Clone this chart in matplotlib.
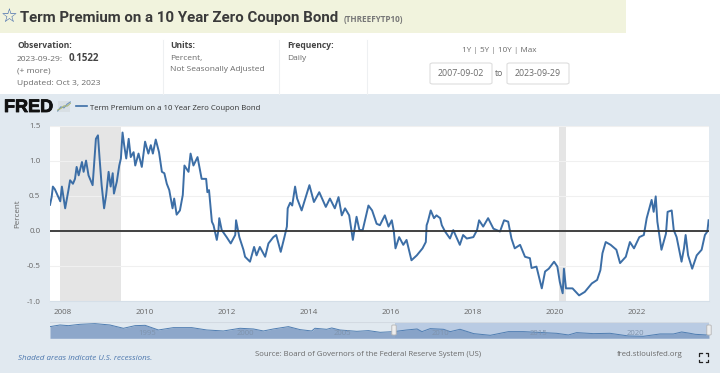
import matplotlib
matplotlib.use("Agg")
import matplotlib.pyplot as plt
import matplotlib.patheffects as pe
from matplotlib.patches import Rectangle, FancyBboxPatch

plt.rcParams['font.family'] = ['Open Sans', 'DejaVu Sans']

# values (fractional year, percent)
years = [2007.68, 2007.72, 2007.75, 2007.80, 2007.86, 2007.93, 2007.97, 2008.05, 2008.13, 2008.17,
         2008.24, 2008.29, 2008.33, 2008.38, 2008.46, 2008.50, 2008.56, 2008.62, 2008.67, 2008.72,
         2008.76, 2008.80, 2008.85, 2008.89, 2008.94, 2009.00, 2009.05, 2009.11, 2009.16, 2009.21,
         2009.24, 2009.31, 2009.37, 2009.41, 2009.45, 2009.49, 2009.54, 2009.60, 2009.65, 2009.72,
         2009.76, 2009.84, 2009.92, 2010.00, 2010.08, 2010.14, 2010.19, 2010.26, 2010.34, 2010.41,
         2010.47, 2010.53, 2010.59, 2010.67, 2010.71, 2010.77, 2010.85, 2010.92, 2010.96, 2011.06,
         2011.11, 2011.18, 2011.28, 2011.38, 2011.49, 2011.52, 2011.56, 2011.63, 2011.67, 2011.75,
         2011.79, 2011.81, 2011.87, 2011.99, 2012.09, 2012.20, 2012.22, 2012.30, 2012.40, 2012.44,
         2012.56, 2012.66, 2012.72, 2012.80, 2012.93, 2013.01, 2013.13, 2013.20, 2013.31, 2013.40,
         2013.46, 2013.48, 2013.54, 2013.59, 2013.66, 2013.71, 2013.82, 2013.90, 2014.01, 2014.12,
         2014.25, 2014.41, 2014.51, 2014.63, 2014.72, 2014.80, 2014.88, 2014.98, 2015.07, 2015.16,
         2015.23, 2015.31, 2015.45, 2015.54, 2015.65, 2015.73, 2015.85, 2015.94, 2016.02, 2016.07,
         2016.11, 2016.20, 2016.30, 2016.38, 2016.50, 2016.63, 2016.77, 2016.85, 2016.87, 2016.90,
         2016.97, 2017.05, 2017.11, 2017.20, 2017.24, 2017.32, 2017.44, 2017.52, 2017.68, 2017.76,
         2017.85, 2018.01, 2018.10, 2018.15, 2018.25, 2018.37, 2018.50, 2018.66, 2018.76, 2018.86,
         2018.94, 2019.02, 2019.15, 2019.27, 2019.39, 2019.43, 2019.55, 2019.68, 2019.76, 2019.85,
         2019.98, 2020.06, 2020.12, 2020.19, 2020.22, 2020.27, 2020.43, 2020.59, 2020.73, 2020.90,
         2021.03, 2021.11, 2021.16, 2021.24, 2021.36, 2021.50, 2021.59, 2021.73, 2021.83, 2021.93,
         2022.06, 2022.17, 2022.24, 2022.36, 2022.41, 2022.46, 2022.50, 2022.60, 2022.71, 2022.75,
         2022.85, 2022.90, 2022.97, 2023.09, 2023.15, 2023.19, 2023.25, 2023.35, 2023.46, 2023.58,
         2023.66, 2023.72, 2023.75]
premium = [0.37, 0.48, 0.63, 0.59, 0.51, 0.42, 0.63, 0.32, 0.58, 0.72,
           0.67, 0.74, 0.91, 0.79, 0.98, 0.84, 1.00, 0.79, 0.72, 0.65,
           0.98, 1.31, 1.36, 1.03, 0.65, 0.32, 0.51, 0.84, 0.63, 0.82,
           0.53, 0.70, 0.93, 1.03, 1.40, 1.22, 1.03, 1.31, 1.05, 1.12,
           0.93, 1.10, 0.91, 1.27, 1.10, 1.22, 1.10, 1.30, 1.12, 0.84,
           0.82, 0.67, 0.58, 0.32, 0.46, 0.23, 0.29, 0.51, 0.93, 0.84,
           1.10, 0.93, 1.05, 0.74, 0.74, 0.55, 0.58, 0.13, 0.08, -0.13,
           0.01, 0.18, 0.01, -0.09, -0.18, -0.06, 0.15, -0.09, -0.27, -0.37,
           -0.44, -0.23, -0.35, -0.23, -0.37, -0.18, -0.09, -0.06, -0.30, -0.09,
           0.06, 0.32, 0.40, 0.36, 0.63, 0.46, 0.29, 0.44, 0.65, 0.41,
           0.55, 0.34, 0.46, 0.32, 0.48, 0.22, 0.32, 0.22, -0.13, 0.20,
           0.01, 0.01, 0.36, 0.29, 0.10, 0.08, 0.22, 0.06, 0.15, -0.01,
           -0.25, -0.09, -0.20, -0.13, -0.42, -0.35, -0.25, -0.16, 0.08, 0.13,
           0.29, 0.18, 0.22, 0.18, 0.08, -0.01, -0.11, 0.01, -0.20, -0.06,
           -0.11, -0.09, 0.01, 0.15, 0.06, 0.18, 0.03, -0.01, 0.15, 0.13,
           -0.11, -0.25, -0.20, -0.37, -0.39, -0.53, -0.51, -0.82, -0.58, -0.54,
           -0.44, -0.51, -0.73, -0.89, -0.54, -0.82, -0.82, -0.92, -0.87, -0.75,
           -0.70, -0.56, -0.32, -0.16, -0.20, -0.27, -0.46, -0.37, -0.16, -0.25,
           -0.09, -0.06, 0.18, 0.44, 0.27, 0.49, 0.13, -0.27, -0.04, 0.27,
           0.29, 0.01, -0.09, -0.44, -0.25, -0.06, -0.35, -0.54, -0.35, -0.27,
           -0.06, -0.01, 0.15]

recessions = [(2007.92, 2009.41), (2020.10, 2020.27)]
yticks = [-1.0, -0.5, 0.0, 0.5, 1.0, 1.5]
xticks = [2008, 2010, 2012, 2014, 2016, 2018, 2020, 2022]

# navigator strip, whole history
nav_years = [1990.00, 1990.51, 1990.94, 1991.54, 1992.30, 1993.07, 1993.76, 1994.36, 1994.87, 1995.55,
             1996.32, 1997.26, 1998.03, 1998.88, 1999.73, 2000.42, 2000.93, 2001.44, 2002.21, 2002.81,
             2003.40, 2003.57, 2004.17, 2004.43, 2004.85, 2005.71, 2006.31, 2006.91, 2007.60, 2008.27,
             2008.80, 2009.05, 2009.47, 2010.15, 2010.50, 2011.00, 2011.70, 2012.55, 2013.48, 2014.25,
             2014.93, 2015.95, 2016.55, 2016.97, 2017.83, 2018.68, 2019.62, 2020.39, 2021.24, 2021.93,
             2022.35, 2022.78, 2023.04, 2023.60, 2023.75]
nav_vals = [2.15, 2.68, 2.47, 2.90, 3.12, 2.68, 1.62, 2.47, 2.57, 1.08,
            1.83, 1.83, 1.08, 0.76, 1.62, 1.40, 0.76, 1.40, 2.15, 1.19,
            0.76, 1.62, 1.30, 1.72, 1.08, 0.65, 0.87, 0.33, 0.55, 1.08,
            1.40, 0.55, 1.51, 1.30, 0.55, 1.30, -0.09, -0.63, 0.55, 0.55,
            0.33, 0.01, -0.52, 0.23, -0.09, 0.01, -0.84, -0.95, -0.20, -0.20,
            0.44, 0.01, -0.31, -0.52, 0.15]
nav_ticks = [1995, 2000, 2005, 2010, 2015, 2020]

W, H = 720, 373
BLUE = "#3c6ea6"
GREY = "#6a6a6a"
DARK = "#444444"


def box(left, top, right, bottom):
    return [left / W, 1 - bottom / H, (right - left) / W, (bottom - top) / H]


def px(x, y, s, **kw):
    return fig.text(x / W, 1 - y / H, s, **kw)


fig = plt.figure(figsize=(7.2, 3.73), dpi=100, facecolor="white")

# header
fig.patches.append(Rectangle((0, 1 - 33 / H), 626 / W, 33 / H, transform=fig.transFigure, fc="#f1f3dd", ec="none", zorder=-2))
fig.patches.append(Rectangle((0, 0), 1, 1 - 94 / H, transform=fig.transFigure, fc="#e1e9f0", ec="none", zorder=-2))
for xv in (163, 279, 367):
    fig.add_artist(plt.Line2D([xv / W, xv / W], [1 - 94 / H, 1 - 40 / H], color="#eef0f2", lw=0.8))

px(1, 23, "\u2606", fontsize=13.5, color="#3a62a8", va="baseline", family="DejaVu Sans")
px(20, 22, "Term Premium on a 10 Year Zero Coupon Bond", fontsize=10.8, fontweight="bold", color="#3a3a3a", va="baseline", family="Roboto")
px(344, 22, "(THREEFYTP10)", fontsize=5.9, fontweight="bold", color="#777777", va="baseline")

px(17, 48, "Observation:", fontsize=6.1, fontweight="bold", color=DARK)
px(17, 61, "2023-09-29:", fontsize=6.1, color=GREY)
px(69, 61, "0.1522", fontsize=7, fontweight="bold", color=DARK)
px(17, 73, "(+ more)", fontsize=6.1, color=GREY)
px(17, 85, "Updated: Oct 3, 2023", fontsize=6.1, color=GREY)
px(170, 48, "Units:", fontsize=6.1, fontweight="bold", color=DARK)
px(170, 60, "Percent,", fontsize=6, color=GREY)
px(170, 71, "Not Seasonally Adjusted", fontsize=6, color=GREY)
px(287, 48, "Frequency:", fontsize=6.1, fontweight="bold", color=DARK)
px(287, 60, "Daily", fontsize=6, color=GREY)
px(499, 52, "1Y | 5Y | 10Y | Max", fontsize=5.9, color=GREY, ha="center")
for left, right, s in ((430, 492, "2007-09-02"), (507, 569, "2023-09-29")):
    fig.patches.append(FancyBboxPatch((left / W, 1 - 84 / H), (right - left) / W, 21 / H,
                                      boxstyle="round,pad=0,rounding_size=0.004", transform=fig.transFigure,
                                      fc="white", ec="#dddddd", lw=0.8, zorder=-1))
    px((left + right) / 2, 76, s, fontsize=6.3, color=GREY, ha="center")
px(499, 76, "to", fontsize=6.3, color=GREY, ha="center")

# legend row
logo = px(4, 112, "FRED", fontsize=13, fontweight="bold", color="#111111", family="Liberation Sans")
logo.set_path_effects([pe.withStroke(linewidth=0.6, foreground="#111111")])
fig.add_artist(plt.Line2D([76 / W, 87 / W], [1 - 106 / H] * 2, color=BLUE, lw=1.2))
px(90, 109.5, "Term Premium on a 10 Year Zero Coupon Bond", fontsize=5.6, color="#333333")
icon = fig.add_axes(box(57, 100, 71, 113))
icon.plot([0, 1, 2, 3, 4], [0, 1.2, 0.9, 2, 2.6], color="#6f93bd", lw=0.8)
icon.plot([0, 1, 2, 3, 4], [0.3, 0.7, 1.5, 1.4, 2.2], color="#a9b56c", lw=0.7)
icon.set_axis_off()
icon.add_patch(Rectangle((0, -0.4), 4, 3.4, fc="#d8dfe4", ec="none", zorder=0))

# main plot
ax = fig.add_axes(box(50, 125.5, 709, 301))
for start, end in recessions:
    ax.axvspan(start, end, color="#e5e5e5", lw=0, zorder=1)
ax.plot(years, premium, color=BLUE, lw=1.4, zorder=3, solid_joinstyle="round")
ax.axhline(0, color="#333333", lw=1.3, zorder=4)
ax.set_xlim(2007.68, 2023.76)
ax.set_ylim(-1.0, 1.5)
ax.set_yticks(yticks, [f"{v:.1f}" for v in yticks])
ax.set_xticks(xticks)
ax.grid(axis="y", color="#f0f0f0", lw=0.8, zorder=0)
ax.tick_params(length=0, labelsize=5.8, labelcolor="#666666", pad=7)
ax.tick_params(axis="x", pad=5.5)
ax.set_ylabel("Percent", fontsize=5.8, color="#666666", labelpad=4)
for side in ("top", "right", "left"):
    ax.spines[side].set_visible(False)
ax.spines["bottom"].set_color("#d5dfe8")
ax.spines["bottom"].set_linewidth(0.8)

# navigator
nav = fig.add_axes(box(50, 322.3, 709, 338.3))
nav.axvspan(2007.68, 2023.75, color="#b9cbe3", lw=0, zorder=0)
nav.fill_between(nav_years, nav_vals, -1.59, color="#7f9cc4", alpha=0.85, lw=0, zorder=1)
nav.plot(nav_years, nav_vals, color="#4f7db1", lw=0.7, zorder=2)
nav.axhline(3.54, color="#d3dae2", lw=0.8, zorder=2)
nav.set_xlim(1990, 2023.75)
nav.set_ylim(-1.59, 3.54)
nav.set_axis_off()
for xv in nav_ticks:
    nav.text(xv, 0.0, str(xv), fontsize=5.6, color="#7f93ac", ha="center", va="center", zorder=3)
for xv in (394, 709):
    fig.patches.append(FancyBboxPatch((xv / W - 2.2 / W, 1 - 335 / H), 4.4 / W, 10 / H,
                                      boxstyle="round,pad=0,rounding_size=0.002", transform=fig.transFigure,
                                      fc="#eeeeee", ec="#b5b5b5", lw=0.6, zorder=5))

# footer
px(18, 359.5, "Shaded areas indicate U.S. recessions.", fontsize=5.8, style="italic", color="#4b76ad")
px(255, 356.5, "Source: Board of Governors of the Federal Reserve System (US)", fontsize=5.55, color=GREY)
px(617, 356.5, "fred.stlouisfed.org", fontsize=5.6, color=GREY)
for xc, yc, dx, dy in ((699, 353, 1, 1), (708, 353, -1, 1), (699, 362, 1, -1), (708, 362, -1, -1)):
    fig.add_artist(plt.Line2D([xc / W, xc / W, (xc + 2.5 * dx) / W], [1 - (yc + 2.5 * dy) / H, 1 - yc / H, 1 - yc / H], color="#222222", lw=0.9))

fig.savefig("out.png", dpi=100)
